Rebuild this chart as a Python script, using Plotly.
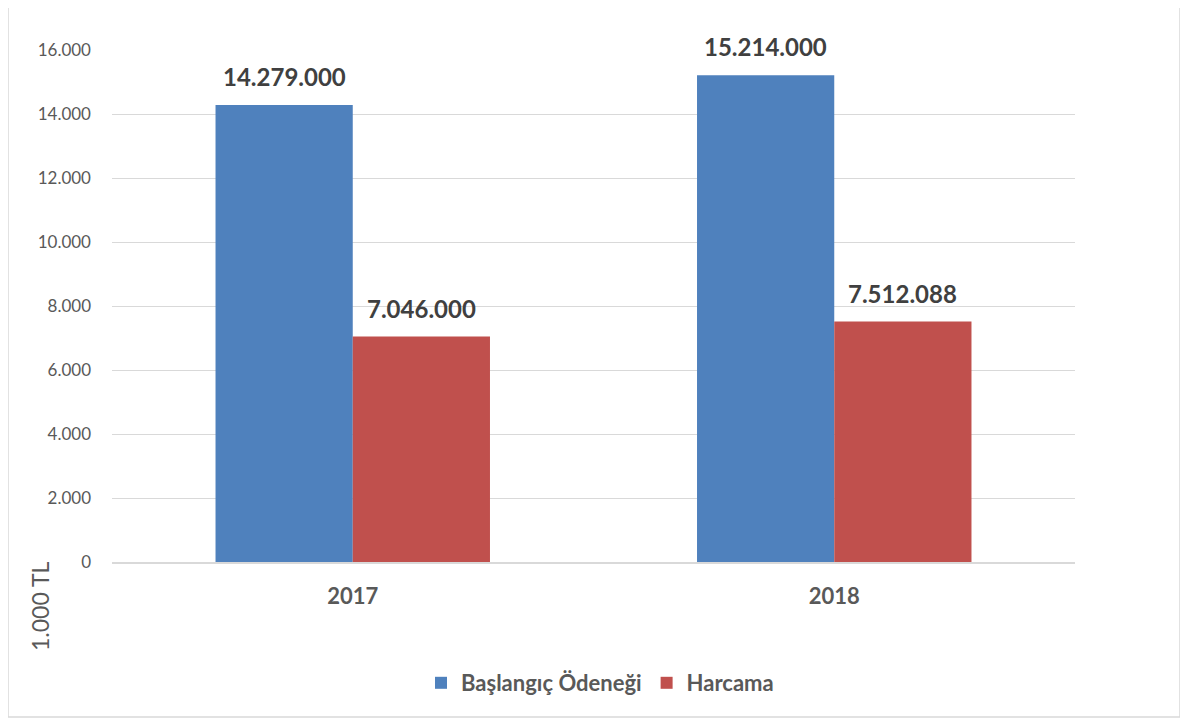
import plotly.graph_objects as go

years = ["2017", "2018"]
baslangic = [14279, 15214]
harcama = [7046, 7512.088]
series_names = ["Başlangıç Ödeneği", "Harcama"]
tick_vals = [0, 2000, 4000, 6000, 8000, 10000, 12000, 14000, 16000]

def fmt(v):
    return f"{round(v * 1000):,}".replace(",", ".")

colors = ["#4F81BD", "#C0504D"]
font = "Lato, Open Sans, sans-serif"

# page body has 8px margin -> figure offset
W, H = 1180, 714
L, T = 104, 42
PW, PH = 963, 512
R, B = W - L - PW, H - T - PH

fig = go.Figure()
for name, vals, col in zip(series_names, [baslangic, harcama], colors):
    fig.add_trace(go.Bar(x=years, y=vals, name=f"<b>{name}</b>",
                         marker=dict(color=col, line=dict(width=0))))

annotations = []
for vals, shift in zip([baslangic, harcama], [-68.5, 68.5]):
    for i, v in enumerate(vals):
        annotations.append(dict(x=i, y=v, xref="x", yref="y", text=f"<b>{fmt(v)}</b>",
                                showarrow=False, xshift=shift, yshift=12, yanchor="bottom",
                                font=dict(family=font, size=24, color="#404040")))
annotations.append(dict(x=(40 - 112) / PW, y=-(606 - 562) / PH, xref="paper", yref="paper",
                        text="1.000 TL", textangle=-90, showarrow=False,
                        xanchor="center", yanchor="middle",
                        font=dict(family=font, size=23, color="#595959")))

fig.update_layout(
    width=W, height=H,
    margin=dict(l=L, r=R, t=T, b=B),
    paper_bgcolor="white", plot_bgcolor="white",
    separators=",.",
    barmode="group", bargap=0.43, bargroupgap=0,
    font=dict(family=font, color="#595959"),
    showlegend=True,
    legend=dict(orientation="h", x=(600 - 112) / PW, xanchor="center",
                y=-(683 - 562) / PH, yanchor="middle",
                font=dict(family=font, size=22, color="#595959"), traceorder="normal",
                itemsizing="constant", itemwidth=30),
    annotations=annotations,
    shapes=[dict(type="rect", xref="paper", yref="paper",
                 x0=(8 - 112) / PW, x1=(1180 - 112) / PW,
                 y0=-(717 - 562) / PH, y1=(562 - 5) / PH,
                 line=dict(color="#D9D9D9", width=1.5), fillcolor="rgba(0,0,0,0)", layer="below")],
)
fig.update_xaxes(type="category", range=[-0.5, len(years) - 0.5], autorange=False,
                 showgrid=False, showline=True, linecolor="#D9D9D9",
                 linewidth=1.5, tickmode="array", tickvals=years,
                 ticktext=[f"<b>{y}</b>" for y in years],
                 tickfont=dict(family=font, size=22, color="#595959"),
                 ticklabelstandoff=14, ticks="")
fig.update_yaxes(range=[0, 16000], tickvals=tick_vals, tickformat=",d", showgrid=True,
                 gridcolor="#D9D9D9", gridwidth=1.2, zeroline=False, showline=False,
                 tickfont=dict(family=font, size=17, color="#595959"), ticklabelstandoff=20)

fig.write_html("out.html")
